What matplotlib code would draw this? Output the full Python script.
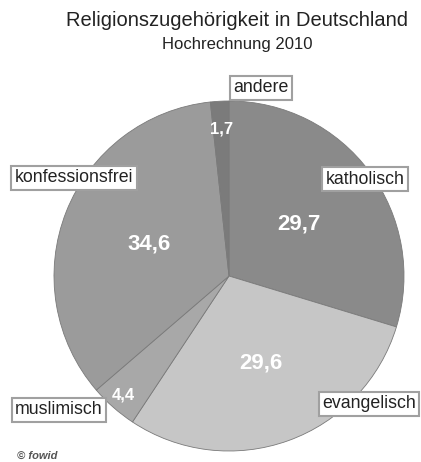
import numpy as np
import matplotlib.pyplot as plt

plt.rcParams['font.family'] = ['Liberation Sans', 'DejaVu Sans']

# Data
categories = ['katholisch', 'evangelisch', 'muslimisch', 'konfessionsfrei', 'andere']
shares = [29.7, 29.6, 4.4, 34.6, 1.7]
value_labels = ['29,7', '29,6', '4,4', '34,6', '1,7']
colors = ['#8a8a8a', '#c6c6c6', '#a8a8a8', '#9b9b9b', '#7b7b7b']

W, H = 421, 462
fig = plt.figure(figsize=(W / 100, H / 100), dpi=100)

# pie centre (229, 276) px, radius 175 px
cx, cy, r = 229, 276, 175
ax = fig.add_axes([(cx - r) / W, (H - cy - r) / H, 2 * r / W, 2 * r / H])
wedges, _ = ax.pie(shares, colors=colors, startangle=90, counterclock=False,
                   radius=1, wedgeprops=dict(edgecolor='#7a7a7a', linewidth=0.6))
ax.set_xlim(-1, 1)
ax.set_ylim(-1, 1)
ax.set_aspect('equal')
ax.axis('off')

# value labels inside slices
dist = [0.5, 0.53, 0.91, 0.49, 0.84]
sizes = [16, 16, 12, 16, 12]
for w, txt, d, s in zip(wedges, value_labels, dist, sizes):
    mid = np.deg2rad((w.theta1 + w.theta2) / 2)
    ax.text(d * np.cos(mid), d * np.sin(mid), txt, ha='center', va='center',
            color='white', fontsize=s, fontweight='bold')

# category labels in boxes (pixel positions)
label_pos = {
    'andere': (261, 88),
    'katholisch': (365, 179),
    'konfessionsfrei': (74, 178),
    'muslimisch': (59, 410),
    'evangelisch': (369, 404),
}
box = dict(boxstyle='square,pad=0.2', facecolor='white', edgecolor='#a0a0a0', linewidth=1.5)
for name, (px, py) in label_pos.items():
    fig.text(px / W, 1 - py / H, name, ha='center', va='center', fontsize=12.8,
             color='#222222', bbox=box)

fig.text(237 / W, 1 - 20 / H, 'Religionszugehörigkeit in Deutschland',
         ha='center', va='center', fontsize=14.5, color='#222222')
fig.text(237 / W, 1 - 44 / H, 'Hochrechnung 2010',
         ha='center', va='center', fontsize=12, color='#222222')
fig.text(17 / W, 1 - 456 / H, '© fowid', ha='left', va='center', fontsize=8,
         style='italic', fontweight='bold', color='#555555')

fig.savefig('out.png', dpi=100)
